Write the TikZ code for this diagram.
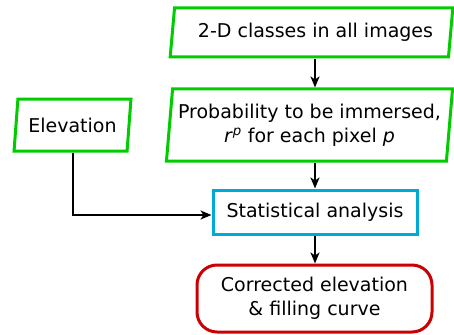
\documentclass[tikz,border=0pt]{standalone}
\usepackage{fontspec}
\setmainfont{DejaVu Sans}
\usetikzlibrary{shapes.geometric,arrows.meta}
\definecolor{boxgreen}{RGB}{0,204,0}
\definecolor{boxblue}{RGB}{0,170,214}
\definecolor{boxred}{RGB}{204,0,0}
\tikzset{
  databox/.style={trapezium, trapezium stretches=true, draw=boxgreen, line width=3pt, align=center},
  procbox/.style={rectangle, draw=boxblue, line width=3pt, align=center},
  resbox/.style={rectangle, rounded corners=20pt, draw=boxred, line width=3pt, align=center},
  flow/.style={-{Stealth[length=11pt,width=9pt,inset=3pt]}, line width=2pt}
}
\begin{document}
\begin{tikzpicture}[x=1pt, y=-1pt, every node/.append style={font=\fontsize{19}{24}\selectfont}]
	\useasboundingbox (0,0) rectangle (454,334);

	\node[databox, trapezium left angle=81, trapezium right angle=99, minimum width=283pt, minimum height=49pt] (cls) at (311.5,32.5) {\hspace*{8pt}2-D classes in all images};
	\node[databox, trapezium left angle=83, trapezium right angle=97, minimum width=287pt, minimum height=72pt] (prob) at (309.5,125) {Probability to be immersed,\\\textit{r}\textsuperscript{\textit{p}} for each pixel \textit{p}};
	\node[databox, trapezium left angle=81, trapezium right angle=99, minimum width=117pt, minimum height=52pt] (elev) at (72.5,125) {Elevation};

	\node[procbox, minimum width=204pt, minimum height=44pt] (stat) at (315,212) {Statistical analysis};
	\node[resbox, minimum width=235pt, minimum height=67pt] (res) at (314.5,298.5) {Corrected elevation\\\& filling curve};

	\draw[flow] (stat.north |- cls.south) -- (stat.north |- prob.north);
	\draw[flow] (stat.north |- prob.south) -- (stat.north);
	\draw[flow] (elev.south) |- ([yshift=-3pt]stat.west);
	\draw[flow] (stat.south) -- (stat.south |- res.north);
\end{tikzpicture}
\end{document}
